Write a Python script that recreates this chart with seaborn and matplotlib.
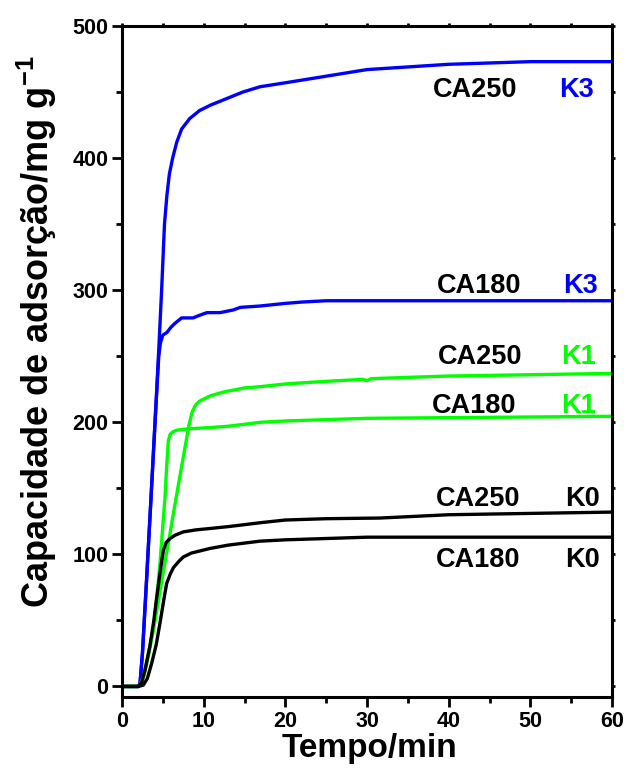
import numpy as np
import pandas as pd
import seaborn as sns
import matplotlib
matplotlib.use("Agg")
import matplotlib.pyplot as plt

# values (time in min, capacity in mg/g)
t_k3_250 = [0, 1.5, 2.0, 2.2, 2.5, 3.0, 3.5, 4.0, 4.5, 4.85, 5.2, 5.5, 5.8, 6.2, 6.7, 7.3,
            8.3, 9.5, 10.8, 12.8, 14.8, 16.9, 20, 23, 26, 30, 35, 40, 45, 50, 55, 60]
q_k3_250 = [0, 0, 0, 2, 25, 80, 137, 195, 255, 300, 350, 372, 388, 400, 412, 422,
            430, 436, 440, 445, 450, 454, 457, 460, 463, 467, 469, 471, 472, 473, 473, 473]

t_k3_180 = [0, 1.5, 2.0, 2.2, 2.5, 3.0, 3.5, 4.0, 4.5, 4.7, 5.0, 5.5, 6.0, 6.5, 7.3, 8.7,
            9.5, 10.4, 12, 13.6, 14.5, 16.9, 20, 22, 25, 30, 40, 50, 60]
q_k3_180 = [0, 0, 0, 2, 25, 80, 137, 195, 250, 260, 266, 268, 272, 275, 279, 279,
            281, 283, 283, 285, 287, 288, 290, 291, 292, 292, 292, 292, 292]

t_k1_250 = [0, 1.5, 2.0, 2.2, 2.7, 3.4, 4.0, 4.6, 5.2, 5.8, 6.4, 7.0, 7.6, 8.2, 8.6, 9.0,
            9.5, 10.8, 12.5, 15, 17, 20, 25, 28, 29.5, 30, 30.5, 35, 40, 50, 60]
q_k1_250 = [0, 0, 0, 1, 9, 30, 48, 70, 92, 113, 135, 156, 177, 198, 208, 213,
            216, 220, 223, 226, 227, 229, 231, 232, 232.5, 231.5, 233, 234, 235, 236, 237]

t_k1_180 = [0, 1.5, 2.0, 2.2, 2.6, 3.2, 3.8, 4.3, 4.65, 5.0, 5.26, 5.5, 5.67, 5.9, 6.3, 6.7,
            8, 10.8, 13, 17, 20, 25, 30, 40, 50, 60]
q_k1_180 = [0, 0, 0, 1, 6, 22, 42, 70, 93, 122, 143, 170, 186, 191, 193, 194,
            195, 196, 197, 200, 201, 202, 203, 203.5, 204, 204.5]

t_k0_250 = [0, 1.5, 2.0, 2.4, 2.8, 3.4, 3.9, 4.24, 4.7, 5.06, 5.4, 5.88, 6.5, 7.5, 9, 10.8,
            13, 17, 20, 25, 31.6, 40, 50, 60]
q_k0_250 = [0, 0, 0, 3, 12, 30, 50, 67, 88, 103, 109, 112, 114.5, 117, 118.5, 119.6,
            121, 124, 126, 127, 127.5, 130, 131, 132]

t_k0_180 = [0, 1.5, 2.0, 2.6, 3.1, 3.63, 4.2, 4.65, 5.1, 5.47, 5.9, 6.3, 7.0, 7.5, 8.5, 10.8,
            13, 16.9, 20, 25, 30, 40, 50, 60]
q_k0_180 = [0, 0, 0, 1, 6, 17.5, 32, 48, 65, 78, 85, 90, 95, 98, 101, 104.5,
            107, 110, 111, 112, 113, 113, 113, 113]

series = [
    (t_k3_250, q_k3_250, "#0000ff"),
    (t_k3_180, q_k3_180, "#0000ff"),
    (t_k1_250, q_k1_250, "#00ff00"),
    (t_k1_180, q_k1_180, "#00ff00"),
    (t_k0_250, q_k0_250, "#000000"),
    (t_k0_180, q_k0_180, "#000000"),
]

# curve labels: sample name, KOH ratio, their x positions, baseline y, colour of the ratio
label_names = ["CA250", "CA180", "CA250", "CA180", "CA250", "CA180"]
label_keys = ["K3", "K3", "K1", "K1", "K0", "K0"]
label_x = [43.2, 43.7, 43.8, 43.1, 43.6, 43.6]
key_x = [55.7, 56.2, 55.9, 55.9, 56.4, 56.4]
label_y = [446, 298, 244, 207, 136.5, 90.5]
key_colors = ["#0000ff", "#0000ff", "#00ff00", "#00ff00", "#000000", "#000000"]

sns.set_style("ticks", {"axes.edgecolor": "black", "xtick.color": "black",
                        "ytick.color": "black", "text.color": "black",
                        "axes.labelcolor": "black"})
plt.rcParams["font.family"] = ["Liberation Sans", "DejaVu Sans"]
plt.rcParams["font.weight"] = "bold"
plt.rcParams["mathtext.fontset"] = "custom"
plt.rcParams["mathtext.default"] = "regular"

fig = plt.figure(figsize=(6.27, 7.69), dpi=100)
ax = fig.add_axes([0.1946, 0.0936, 0.7815, 0.8726])

for t, q, c in series:
    df = pd.DataFrame({"t": t, "q": q})
    sns.lineplot(data=df, x="t", y="q", color=c, lw=2.4, estimator=None,
                 sort=False, ax=ax)

for name, lx, key, kx, ly, kc in zip(label_names, label_x, label_keys, key_x,
                                      label_y, key_colors):
    ax.text(lx, ly, name, ha="center", va="baseline", fontsize=19.5,
            fontweight="bold", color="black")
    ax.text(kx, ly, key, ha="center", va="baseline", fontsize=19.5,
            fontweight="bold", color=kc)

ax.set_xlim(0, 60)
ax.set_ylim(-8, 500)
ax.set_xticks(np.arange(0, 61, 10))
ax.set_xticks(np.arange(0, 61, 5), minor=True)
ax.set_yticks(np.arange(0, 501, 100))
ax.set_yticks(np.arange(0, 501, 50), minor=True)

for s in ax.spines.values():
    s.set_linewidth(2.2)
    s.set_visible(True)
    s.set_color("black")

ax.tick_params(axis="both", which="major", direction="out", length=7, width=2,
               labelsize=15.5, pad=3, colors="black")
ax.tick_params(axis="both", which="minor", direction="out", length=4, width=2,
               colors="black")
ax.tick_params(top=True, right=True, which="both", labeltop=False, labelright=False)
# shorter mirrored ticks on top / right
for tick in ax.xaxis.get_major_ticks() + ax.xaxis.get_minor_ticks():
    tick.tick2line.set_markersize(2.5)
for tick in ax.yaxis.get_major_ticks() + ax.yaxis.get_minor_ticks():
    tick.tick2line.set_markersize(2.5)

for lab in ax.get_xticklabels() + ax.get_yticklabels():
    lab.set_fontweight("bold")

ax.set_xlabel("Tempo/min", fontsize=24, fontweight="bold")
ax.set_ylabel("Capacidade de adsorção/mg g$^{-1}$", fontsize=26,
              fontweight="bold")
ax.xaxis.set_label_coords(0.506, -0.053)
ax.yaxis.set_label_coords(-0.128, 0.544)

fig.savefig("out.png", dpi=100)
